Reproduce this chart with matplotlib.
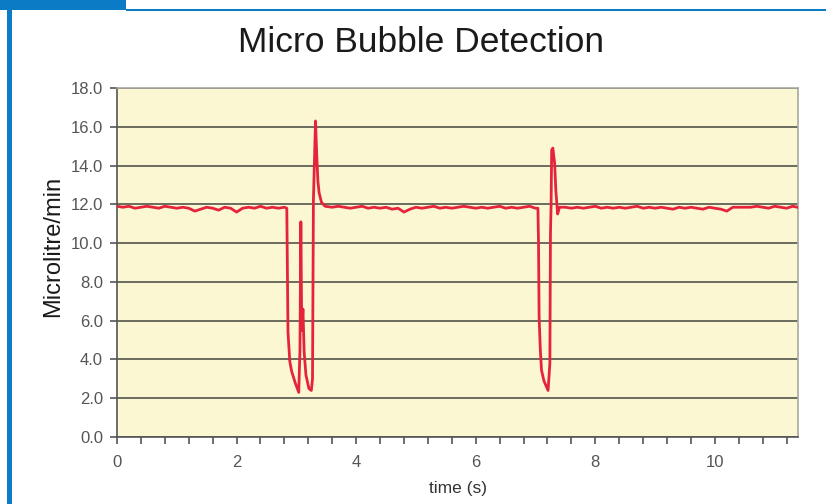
import matplotlib
matplotlib.use("Agg")
import matplotlib.pyplot as plt
from matplotlib.patches import Rectangle
from matplotlib.ticker import FixedLocator

plt.rcParams['font.family'] = ['Liberation Sans', 'DejaVu Sans']

# ---------------- data ----------------
title = "Micro Bubble Detection"
x_label = "time (s)"
y_label = "Microlitre/min"

base1_t = [0.0, 0.1, 0.2, 0.3, 0.4, 0.5, 0.6, 0.7, 0.8, 0.9, 1.0, 1.1, 1.2, 1.3, 1.4,
           1.5, 1.6, 1.7, 1.8, 1.9, 2.0, 2.1, 2.2, 2.3, 2.4, 2.5, 2.6, 2.7, 2.8]
base1_v = [11.9, 11.85, 11.9, 11.8, 11.85, 11.9, 11.85, 11.8, 11.9, 11.85, 11.8, 11.85,
           11.8, 11.65, 11.75, 11.85, 11.8, 11.7, 11.85, 11.8, 11.6, 11.8, 11.85, 11.8,
           11.9, 11.8, 11.85, 11.8, 11.85]

event1_t = [2.84, 2.85, 2.86, 2.89, 2.92, 2.98, 3.04, 3.06, 3.075, 3.09, 3.11, 3.13,
            3.16, 3.21, 3.25, 3.27, 3.285, 3.32, 3.34, 3.36, 3.38, 3.42, 3.48]
event1_v = [11.8, 8.6, 5.4, 3.9, 3.4, 2.8, 2.3, 4.5, 11.1, 5.5, 6.6, 4.4,
            3.2, 2.5, 2.4, 3.0, 12.2, 16.3, 14.6, 13.2, 12.6, 12.1, 11.9]

base2_t = [3.6, 3.7, 3.8, 3.9, 4.0, 4.1, 4.2, 4.3, 4.4, 4.5, 4.6, 4.7, 4.8, 4.9, 5.0,
           5.1, 5.2, 5.3, 5.4, 5.5, 5.6, 5.7, 5.8, 5.9, 6.0, 6.1, 6.2, 6.3, 6.4, 6.5,
           6.6, 6.7, 6.8, 6.9, 7.0]
base2_v = [11.85, 11.9, 11.85, 11.8, 11.85, 11.9, 11.8, 11.85, 11.8, 11.85, 11.75, 11.8,
           11.6, 11.75, 11.85, 11.8, 11.85, 11.9, 11.8, 11.85, 11.8, 11.85, 11.9, 11.85,
           11.8, 11.85, 11.8, 11.85, 11.9, 11.8, 11.85, 11.8, 11.85, 11.9, 11.8]

event2_t = [7.04, 7.05, 7.06, 7.08, 7.10, 7.14, 7.21, 7.24, 7.25, 7.26, 7.27, 7.29,
            7.32, 7.34, 7.37, 7.40]
event2_v = [11.8, 10.0, 6.2, 4.5, 3.45, 2.9, 2.4, 3.8, 10.5, 11.9, 14.8, 14.9,
            14.1, 12.7, 11.5, 11.85]

base3_t = [7.5, 7.6, 7.7, 7.8, 7.9, 8.0, 8.1, 8.2, 8.3, 8.4, 8.5, 8.6, 8.7, 8.8, 8.9,
           9.0, 9.1, 9.2, 9.3, 9.4, 9.5, 9.6, 9.7, 9.8, 9.9, 10.0, 10.1, 10.2, 10.3,
           10.4, 10.5, 10.6, 10.7, 10.8, 10.9, 11.0, 11.1, 11.2, 11.3, 11.38]
base3_v = [11.85, 11.8, 11.85, 11.8, 11.85, 11.9, 11.8, 11.85, 11.8, 11.85, 11.8, 11.85,
           11.9, 11.8, 11.85, 11.8, 11.85, 11.8, 11.75, 11.85, 11.8, 11.85, 11.8, 11.75,
           11.85, 11.8, 11.75, 11.65, 11.85, 11.85, 11.85, 11.85, 11.9, 11.85, 11.8,
           11.9, 11.85, 11.8, 11.9, 11.85]

time_s = base1_t + event1_t + base2_t + event2_t + base3_t
flow = base1_v + event1_v + base2_v + event2_v + base3_v

y_ticks = [0, 2, 4, 6, 8, 10, 12, 14, 16, 18]
x_ticks = [0, 2, 4, 6, 8, 10]

# ---------------- figure ----------------
W, H = 826, 504
fig = plt.figure(figsize=(W / 100, H / 100), dpi=100)
fig.patch.set_facecolor("white")

blue = "#0a7bc4"
# page frame decorations
fig.add_artist(Rectangle((0, 1 - 10 / H), 126 / W, 10 / H, transform=fig.transFigure,
                         facecolor=blue, edgecolor="none"))
fig.add_artist(Rectangle((126 / W, 1 - 10.5 / H), 1 - 126 / W, 2 / H, transform=fig.transFigure,
                         facecolor=blue, edgecolor="none"))
fig.add_artist(Rectangle((7.5 / W, 0), 4 / W, 1 - 10 / H, transform=fig.transFigure,
                         facecolor=blue, edgecolor="none"))

L, R, T, B = 117, 798, 88, 437
ax = fig.add_axes([L / W, 1 - B / H, (R - L) / W, (B - T) / H])
ax.set_facecolor("#fcf7d3")

ax.plot(time_s, flow, color="#e5243b", lw=2.0, solid_joinstyle="round", zorder=3)

ax.set_xlim(0, 11.39)
ax.set_ylim(0, 18)
ax.set_yticks(y_ticks)
ax.set_yticklabels([f"{v:.1f}" for v in y_ticks])
ax.set_xticks(x_ticks)
ax.set_xticklabels([str(v) for v in x_ticks])
ax.xaxis.set_minor_locator(FixedLocator([i * 0.4 for i in range(29) if i % 5 != 0]))

ax.grid(axis="y", color="#6b6b5e", lw=1.4, zorder=1)
ax.set_axisbelow(True)

for s in ["left", "bottom"]:
    ax.spines[s].set_color("#555555")
    ax.spines[s].set_linewidth(1.2)
for s in ["top", "right"]:
    ax.spines[s].set_color("#a8a8a0")
    ax.spines[s].set_linewidth(1.2)

ax.tick_params(axis="y", which="major", length=5, width=1.2, color="#555555",
               labelsize=12, labelcolor="#555555", pad=5)
ax.tick_params(axis="x", which="both", length=5, width=1.2, color="#555555",
               labelsize=12, labelcolor="#555555", pad=8)

ax.set_xlabel(x_label, fontsize=12.5, color="#333333", labelpad=8)
ax.set_ylabel(y_label, fontsize=17, color="#1a1a1a")
ax.yaxis.set_label_coords(-0.078, 0.545)

fig.text(421 / W, 1 - 43 / H, title, fontsize=25.5, color="#1a1a1a",
         ha="center", va="center")

fig.savefig("out.png", dpi=100, facecolor="white")
